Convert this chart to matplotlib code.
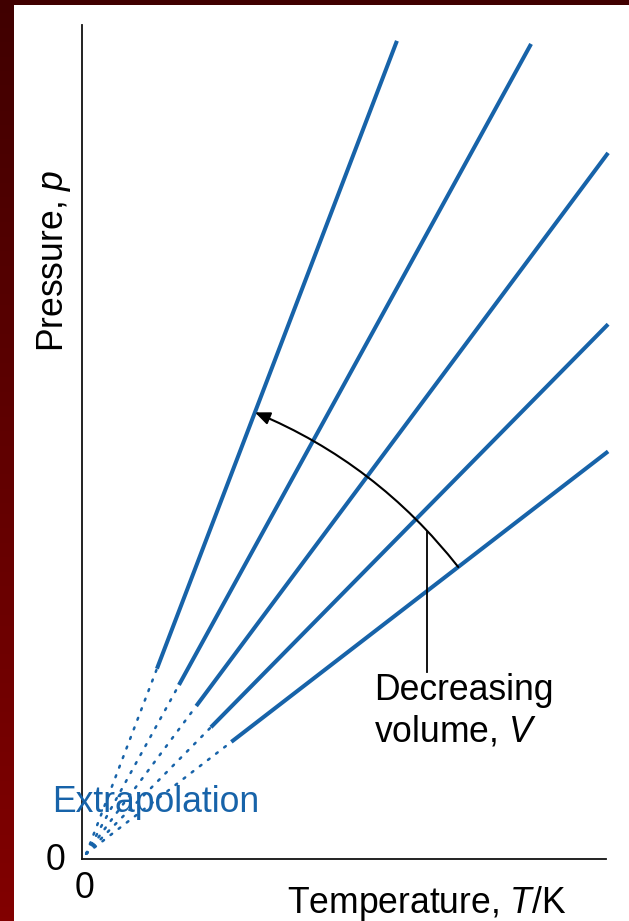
import matplotlib
matplotlib.use("Agg")
import matplotlib.pyplot as plt
import numpy as np
from matplotlib.patches import Rectangle

plt.rcParams['font.family'] = ['Liberation Sans', 'DejaVu Sans']
plt.rcParams['mathtext.fontset'] = 'custom'
plt.rcParams['mathtext.rm'] = 'Liberation Sans'
plt.rcParams['mathtext.it'] = 'Liberation Sans:italic'

# isochores p = p0 + k (T - T0), all meeting near the origin
slopes = [2.63, 1.83, 1.35, 1.02, 0.775]
solid_start = [1.43, 1.85, 2.18, 2.46, 2.85]   # T where measured data begins
solid_end = [6.01, 8.57, 10.04, 10.04, 10.04]  # T where line ends
T0, p0 = 0.08, 0.10

arrow_from_T = 7.18   # on lowest line
arrow_to_T = 3.30     # on steepest line
leader_T = 6.58
leader_p = [6.28, 3.59]

blue = '#1763a9'
W, H = 629, 921

fig = plt.figure(figsize=(W / 100, H / 100), dpi=100)

# dark red frame with a vertical gradient
bg = fig.add_axes([0, 0, 1, 1])
grad = np.linspace(0, 1, 256).reshape(-1, 1)
top = np.array([0x40, 0x00, 0x00]) / 255
bot = np.array([0x82, 0x00, 0x00]) / 255
img = top[None, None, :] * (1 - grad[:, :, None]) + bot[None, None, :] * grad[:, :, None]
bg.imshow(img, extent=[0, 1, 0, 1], aspect='auto', origin='upper')
bg.add_patch(Rectangle((14 / W, 0), 1, (H - 5) / H, transform=bg.transAxes,
                       facecolor='white', edgecolor='none', zorder=5))
bg.set_xlim(0, 1)
bg.set_ylim(0, 1)
bg.axis('off')

ax = fig.add_axes([82 / W, (H - 859) / H, 524 / W, 834 / H])
ax.set_facecolor('none')
ax.set_xlim(0, 10)
ax.set_ylim(0, 16)
for s in ['top', 'right']:
    ax.spines[s].set_visible(False)
for s in ['left', 'bottom']:
    ax.spines[s].set_linewidth(1.3)
    ax.spines[s].set_color('#111111')
ax.set_xticks([])
ax.set_yticks([])


def line_p(k, T):
    return p0 + k * (np.asarray(T) - T0)


for k, t1, t2 in zip(slopes, solid_start, solid_end):
    ax.plot([T0, t1], line_p(k, [T0, t1]), color=blue, lw=1.8,
            linestyle=(0, (0.8, 3.3)), dash_capstyle='round', clip_on=False)
    ax.plot([t1, t2], line_p(k, [t1, t2]), color=blue, lw=2.9,
            solid_capstyle='butt', clip_on=False)

# curved arrow across the lines
ax.annotate('', xy=(arrow_to_T, line_p(slopes[0], arrow_to_T)),
            xytext=(arrow_from_T, line_p(slopes[-1], arrow_from_T)),
            arrowprops=dict(arrowstyle='-|>,head_length=0.9,head_width=0.38',
                            connectionstyle='arc3,rad=0.13', color='black',
                            lw=1.5, shrinkA=0, shrinkB=0))
ax.plot([leader_T, leader_T], leader_p, color='black', lw=1.3)

fs = 25.6
ax.text(5.57, 3.05, 'Decreasing', fontsize=fs, ha='left', va='baseline')
ax.text(5.57, 2.25, 'volume, $V$', fontsize=fs, ha='left', va='baseline')
ax.text(-0.57, 0.90, 'Extrapolation', fontsize=fs, color=blue,
        ha='left', va='baseline')
ax.text(3.91, -1.04, 'Temperature, $T$/K', fontsize=fs, ha='left',
        va='baseline', clip_on=False)
ax.text(0.04, -0.56, '0', fontsize=fs, ha='center', va='center')
ax.text(-0.50, -0.02, '0', fontsize=fs, ha='center', va='center')
ax.text(-0.53, 11.48, 'Pressure, $p$', fontsize=fs, rotation=90,
        ha='center', va='center')

fig.savefig('out.png', dpi=100)
